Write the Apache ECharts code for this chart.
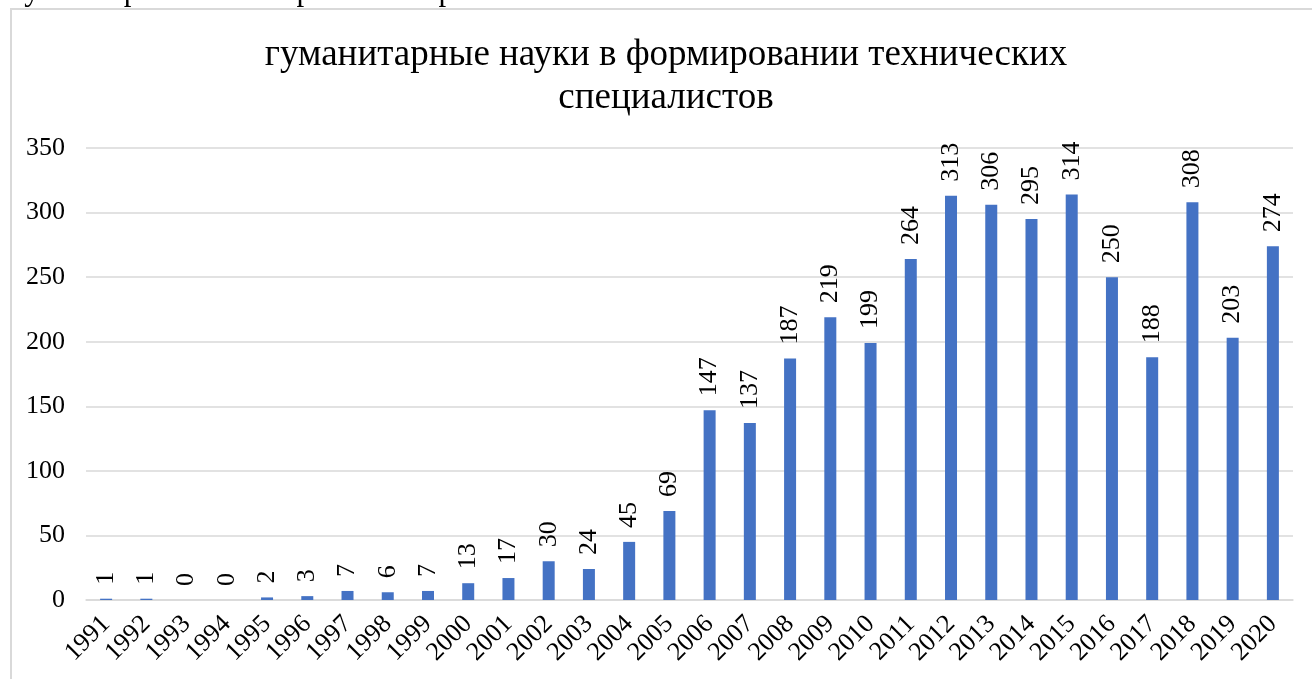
<!DOCTYPE html>
<html><head><meta charset="utf-8">
<script src="https://cdn.jsdelivr.net/npm/echarts@6/dist/echarts.min.js"></script>
<style>html,body{margin:0;padding:0;background:#fff}#c{width:1312px;height:679px}</style>
</head><body><div id="c"></div>
<script>
const years = ['1991','1992','1993','1994','1995','1996','1997','1998','1999','2000','2001','2002','2003','2004','2005','2006','2007','2008','2009','2010','2011','2012','2013','2014','2015','2016','2017','2018','2019','2020'];
const counts = [1,1,0,0,2,3,7,6,7,13,17,30,24,45,69,147,137,187,219,199,264,313,306,295,314,250,188,308,203,274];
const titleText = 'гуманитарные науки в формировании технических\nспециалистов';
const serif = '"Liberation Serif","Times New Roman",serif';
const chart = echarts.init(document.getElementById('c'));
chart.setOption({
  animation:false,
  backgroundColor:'#fff',
  graphic:[
    {type:'rect',shape:{x:11,y:9,width:1320,height:700},style:{fill:'none',stroke:'#d9d9d9',lineWidth:2},silent:true},
    {type:'text',x:-4,y:7,style:{text:'изучение работ. Это отражено на рис. 1.',fontFamily:serif,fontSize:31,fill:'#000',verticalAlign:'bottom'},silent:true},
    {type:'text',x:666,y:34,style:{text:titleText,fontFamily:serif,fontSize:37,fill:'#000',align:'center',lineHeight:43},silent:true}
  ],
  grid:{left:86,right:19,top:148,bottom:79,containLabel:false},
  xAxis:{type:'category',data:years,
    axisLine:{lineStyle:{color:'#d9d9d9',width:1.5}},axisTick:{show:false},
    axisLabel:{rotate:45,fontFamily:serif,fontSize:26,color:'#000',margin:20,interval:0}},
  yAxis:{type:'value',min:0,max:350,interval:50,
    axisLine:{show:false},axisTick:{show:false},
    splitLine:{lineStyle:{color:'#d9d9d9',width:1.5}},
    axisLabel:{fontFamily:serif,fontSize:26,color:'#000',margin:21}},
  series:[{type:'bar',data:counts,barWidth:12,itemStyle:{color:'#4472C4'},
    label:{show:true,position:'top',rotate:90,align:'left',verticalAlign:'middle',distance:14,
      fontFamily:serif,fontSize:26,color:'#000'}}]
});
</script></body></html>
